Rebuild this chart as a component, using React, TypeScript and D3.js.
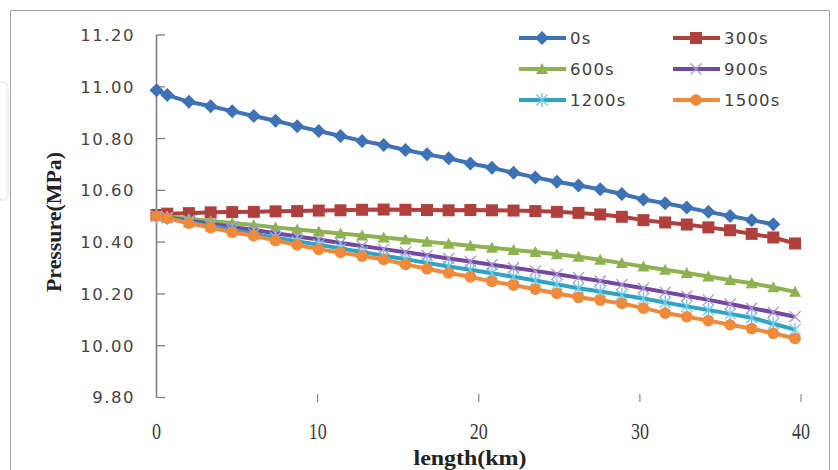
import React from "react";
import * as d3 from "d3";

const lengthKm = [0, 0.67, 2.01, 3.36, 4.7, 6.04, 7.39, 8.73, 10.07, 11.42, 12.76, 14.1, 15.45, 16.79, 18.13, 19.48, 20.82, 22.16, 23.51, 24.85, 26.19, 27.54, 28.88, 30.22, 31.57, 32.91, 34.25, 35.6, 36.94, 38.28, 39.63];

const p0s = [10.987, 10.968, 10.942, 10.925, 10.906, 10.887, 10.869, 10.848, 10.829, 10.81, 10.791, 10.775, 10.756, 10.739, 10.724, 10.704, 10.687, 10.668, 10.65, 10.633, 10.619, 10.604, 10.586, 10.565, 10.55, 10.534, 10.517, 10.501, 10.485, 10.469];
const p300s = [10.505, 10.51, 10.512, 10.515, 10.516, 10.517, 10.519, 10.52, 10.522, 10.523, 10.525, 10.526, 10.525, 10.524, 10.523, 10.524, 10.523, 10.522, 10.52, 10.517, 10.513, 10.507, 10.498, 10.485, 10.476, 10.468, 10.457, 10.446, 10.432, 10.418, 10.395];
const p600s = [10.5, 10.497, 10.49, 10.482, 10.474, 10.466, 10.457, 10.449, 10.441, 10.433, 10.426, 10.418, 10.41, 10.402, 10.394, 10.386, 10.378, 10.37, 10.362, 10.353, 10.344, 10.332, 10.319, 10.306, 10.293, 10.281, 10.267, 10.254, 10.241, 10.226, 10.208];
const p900s = [10.5, 10.495, 10.483, 10.471, 10.459, 10.447, 10.434, 10.422, 10.41, 10.397, 10.385, 10.373, 10.361, 10.349, 10.337, 10.325, 10.313, 10.301, 10.289, 10.276, 10.263, 10.25, 10.236, 10.222, 10.207, 10.192, 10.177, 10.161, 10.145, 10.129, 10.112];
const p1200s = [10.5, 10.493, 10.478, 10.462, 10.447, 10.432, 10.418, 10.403, 10.39, 10.376, 10.362, 10.348, 10.334, 10.32, 10.306, 10.293, 10.28, 10.266, 10.252, 10.237, 10.222, 10.209, 10.196, 10.182, 10.167, 10.152, 10.138, 10.123, 10.108, 10.085, 10.062];
const p1500s = [10.5, 10.492, 10.473, 10.456, 10.438, 10.425, 10.406, 10.389, 10.372, 10.36, 10.346, 10.333, 10.314, 10.297, 10.281, 10.266, 10.248, 10.234, 10.218, 10.202, 10.187, 10.176, 10.163, 10.145, 10.126, 10.112, 10.097, 10.081, 10.066, 10.048, 10.028];

const seriesNames = ["0s", "300s", "600s", "900s", "1200s", "1500s"];
const seriesValues = [p0s, p300s, p600s, p900s, p1200s, p1500s];
const yTicks = [9.8, 10.0, 10.2, 10.4, 10.6, 10.8, 11.0, 11.2];
const xTicks = [0, 10, 20, 30, 40];

const colors = ["#3D72B6", "#B0403D", "#8DB24F", "#7447A0", "#2FA3C4", "#EE8A3A"];
const markerColors = ["#3D72B6", "#B0403D", "#8DB24F", "#A996D6", "#6CC8E8", "#EE8A3A"];
const markerTypes = ["diamond", "square", "triangle", "x", "star", "circle"];

function Marker({ type, x, y, color }: { type: string; x: number; y: number; color: string }) {
  const t = `translate(${x},${y})`;
  switch (type) {
    case "diamond":
      return <path transform={t} d="M0,-7L7,0L0,7L-7,0Z" fill={color} />;
    case "square":
      return <rect transform={t} x={-6} y={-6} width={12} height={12} fill={color} />;
    case "triangle":
      return <path transform={t} d="M0,-6L6,5L-6,5Z" fill={color} />;
    case "x":
      return (
        <path transform={t} d="M-5.5,-5.5L5.5,5.5M-5.5,5.5L5.5,-5.5" stroke={color} strokeWidth={1.3} fill="none" />
      );
    case "star":
      return (
        <path transform={t} d="M-5.5,-5.5L5.5,5.5M-5.5,5.5L5.5,-5.5M0,-7L0,7" stroke={color} strokeWidth={1.3} fill="none" />
      );
    default:
      return <circle transform={t} r={5.8} fill={color} />;
  }
}

export default function App() {
  const x = d3.scaleLinear().domain([0, 40]).range([156.5, 801]);
  const y = d3.scaleLinear().domain([9.8, 11.2]).range([397.5, 35]);
  const line = d3
    .line<[number, number]>()
    .x((d) => x(d[0]))
    .y((d) => y(d[1]));

  const legendPos = [
    [519, 38],
    [673, 38],
    [519, 69],
    [673, 69],
    [519, 100],
    [673, 100],
  ];

  return (
    <svg
      width={838}
      height={470}
      style={{ position: "absolute", left: 0, top: 0, background: "#fff" }}
    >
      <rect x={0} y={0} width={838} height={470} fill="#fff" />
      <path d="M10.5,480V10.5H829.5V480" fill="none" stroke="#a6a6a6" strokeWidth={1} />
      <path d="M0,82H3Q8,82 8,90V193Q8,200 3,200H0" fill="none" stroke="#ececec" strokeWidth={1.5} />

      {/* Y axis */}
      <line x1={156.5} x2={156.5} y1={y(11.2)} y2={y(9.8)} stroke="#7f7f7f" strokeWidth={1.6} />
      {yTicks.map((t) => (
        <g key={t}>
          <line x1={156.5} x2={165} y1={y(t)} y2={y(t)} stroke="#7f7f7f" strokeWidth={1.3} />
          <text
            x={135}
            y={y(t)}
            dy="0.36em"
            textAnchor="end"
            fontFamily="DejaVu Sans"
            fontSize={16.5}
            letterSpacing={1.5}
            fill="#444"
          >
            {t.toFixed(2)}
          </text>
        </g>
      ))}

      {/* X ticks */}
      {xTicks.map((t) => (
        <g key={t}>
          {t > 0 && (
            <line x1={x(t)} x2={x(t)} y1={394} y2={402} stroke="#8a8a8a" strokeWidth={1.2} />
          )}
          <text
            transform={`translate(${x(t)},439) scale(0.75,1)`}
            textAnchor="middle"
            fontFamily="Liberation Serif"
            fontSize={24}
            fill="#3a3a3a"
          >
            {t}
          </text>
        </g>
      ))}

      {/* Axis titles */}
      <text
        x={470}
        y={465}
        textAnchor="middle"
        fontFamily="Liberation Serif"
        fontWeight="bold"
        fontSize={21}
        textLength={113}
        lengthAdjust="spacingAndGlyphs"
        fill="#222"
      >
        length(km)
      </text>
      <text
        transform="translate(61,222) rotate(-90)"
        textAnchor="middle"
        fontFamily="Liberation Serif"
        fontWeight="bold"
        fontSize={21}
        textLength={140}
        lengthAdjust="spacingAndGlyphs"
        fill="#222"
      >
        Pressure(MPa)
      </text>

      {/* Series */}
      {seriesValues.map((vals, si) => {
        const pts = vals.map((v, i) => [lengthKm[i], v] as [number, number]);
        return (
          <g key={seriesNames[si]}>
            <path d={line(pts) || ""} fill="none" stroke={colors[si]} strokeWidth={4} strokeLinejoin="round" />
            {pts.map((p, i) => (
              <Marker key={i} type={markerTypes[si]} x={x(p[0])} y={y(p[1])} color={markerColors[si]} />
            ))}
          </g>
        );
      })}

      {/* Legend */}
      {seriesNames.map((name, si) => {
        const [lx, ly] = legendPos[si];
        return (
          <g key={name}>
            <line x1={lx} x2={lx + 47} y1={ly} y2={ly} stroke={colors[si]} strokeWidth={4} />
            <Marker type={markerTypes[si]} x={lx + 23} y={ly} color={markerColors[si]} />
            <text
              x={lx + 51}
              y={ly}
              dy="0.36em"
              fontFamily="DejaVu Sans"
              fontSize={16.5}
              letterSpacing={1.2}
              fill="#404040"
            >
              {name}
            </text>
          </g>
        );
      })}
    </svg>
  );
}
